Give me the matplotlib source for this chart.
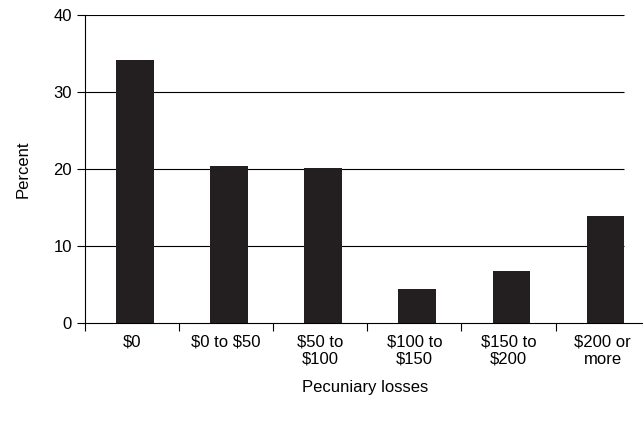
import matplotlib; matplotlib.use("Agg")
import matplotlib.pyplot as plt
import numpy as np

cats = ["\\$0", "\\$0 to \\$50", "\\$50 to\n\\$100", "\\$100 to\n\\$150", "\\$150 to\n\\$200", "\\$200 or\nmore"]
vals = [34.2, 20.4, 20.1, 4.4, 6.7, 13.9]

plt.rcParams.update({"font.family": "Liberation Sans", "font.size": 12})
fig = plt.figure(figsize=(6.43, 4.22), dpi=100)
ax = fig.add_axes([85/643, 1-323/422, 560/643, 308/422])
x = np.arange(len(cats))
ax.bar(x + 0.03, vals, width=0.4, color="#231f20", zorder=3)
ax.set_ylim(0, 40); ax.set_xlim(-0.5, 5.45)
ax.set_yticks([0, 10, 20, 30, 40])
ax.hlines([10, 20, 30, 40], -0.5, 5.23, color="black", lw=0.8, zorder=1)
for s in ["top", "right"]:
    ax.spines[s].set_visible(False)
ax.set_xticks(x, minor=True)
ax.set_xticklabels(cats, minor=True)
ax.tick_params(axis="x", which="minor", length=0, pad=8)
ax.set_xticks(x - 0.5)
ax.set_xticklabels([])
ax.tick_params(axis="x", which="major", length=6, direction="out")
ax.tick_params(axis="y", length=6)
ax.set_ylabel("Percent", labelpad=16)
ax.set_xlabel("Pecuniary losses", labelpad=10)
fig.savefig("out.png", dpi=100)
